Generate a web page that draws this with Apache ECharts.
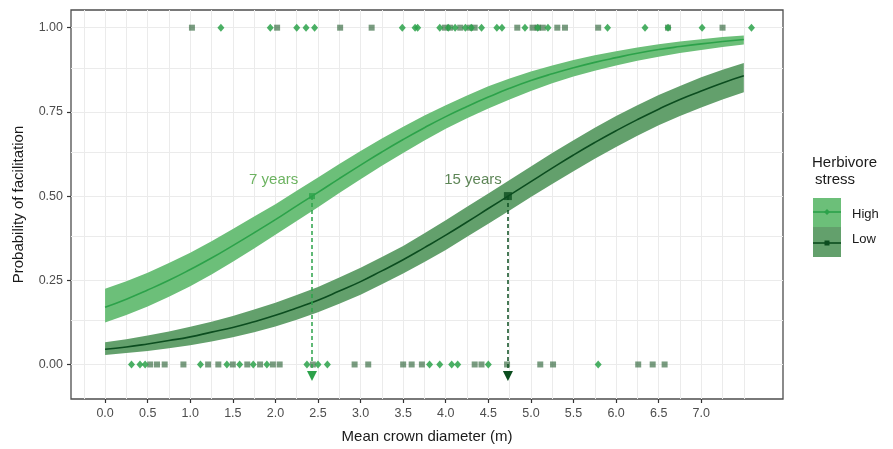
<!DOCTYPE html>
<html><head><meta charset="utf-8">
<script src="https://cdn.jsdelivr.net/npm/echarts@6/dist/echarts.min.js"></script>
<style>html,body{margin:0;padding:0;background:#fff}#c{width:893px;height:449px}</style>
</head><body><div id="c"></div>
<script>
// ---- data ----
const xTicks = [0, 0.5, 1, 1.5, 2, 2.5, 3, 3.5, 4, 4.5, 5, 5.5, 6, 6.5, 7];
const yTicks = [0, 0.25, 0.5, 0.75, 1];
const curveX = [0,0.25,0.5,0.75,1,1.25,1.5,1.75,2,2.25,2.5,2.75,3,3.25,3.5,3.75,4,4.25,4.5,4.75,5,5.25,5.5,5.75,6,6.25,6.5,6.75,7,7.25,7.5];
const highFit   = [0.170,0.194,0.221,0.250,0.282,0.316,0.353,0.391,0.430,0.471,0.511,0.552,0.592,0.631,0.668,0.703,0.736,0.766,0.794,0.820,0.843,0.863,0.881,0.897,0.911,0.924,0.935,0.944,0.952,0.959,0.965];
const highLower = [0.125,0.147,0.172,0.201,0.232,0.267,0.305,0.344,0.385,0.426,0.467,0.509,0.550,0.590,0.628,0.665,0.700,0.731,0.760,0.787,0.812,0.835,0.855,0.872,0.888,0.902,0.914,0.925,0.934,0.943,0.950];
const highUpper = [0.225,0.247,0.272,0.301,0.332,0.366,0.402,0.439,0.476,0.516,0.555,0.595,0.634,0.671,0.706,0.739,0.770,0.799,0.826,0.849,0.870,0.888,0.904,0.918,0.930,0.941,0.951,0.959,0.966,0.972,0.977];
const lowFit    = [0.045,0.052,0.061,0.071,0.082,0.096,0.110,0.127,0.146,0.168,0.191,0.218,0.246,0.278,0.311,0.347,0.384,0.423,0.463,0.503,0.543,0.583,0.622,0.659,0.694,0.727,0.758,0.787,0.812,0.836,0.857];
const lowLower  = [0.028,0.034,0.040,0.048,0.057,0.068,0.081,0.096,0.113,0.133,0.155,0.180,0.207,0.238,0.270,0.304,0.340,0.379,0.418,0.457,0.497,0.536,0.574,0.611,0.646,0.679,0.710,0.738,0.763,0.787,0.808];
const lowUpper  = [0.066,0.075,0.086,0.098,0.112,0.127,0.144,0.163,0.183,0.206,0.230,0.258,0.287,0.319,0.352,0.390,0.428,0.468,0.508,0.548,0.588,0.628,0.666,0.703,0.738,0.770,0.800,0.827,0.853,0.875,0.895];
// observed points (x positions); y = 1 (facilitation) or 0
const highTopX = [1.36,1.94,2.25,2.36,2.46,3.49,3.64,3.67,3.93,4.03,4.11,4.23,4.30,4.42,4.60,4.66,4.93,5.08,5.20,5.90,6.34,6.61,7.01,7.59];
const lowTopX  = [1.02,2.02,2.76,3.13,3.99,4.05,4.17,4.28,4.34,4.84,5.02,5.08,5.14,5.31,5.40,5.79,6.61,7.25];
const highBottomX = [0.31,0.41,0.47,1.12,1.43,1.58,1.74,1.90,2.37,2.50,2.61,3.81,3.93,4.07,4.14,4.50,5.79];
const lowBottomX  = [0.53,0.61,0.70,0.92,1.21,1.33,1.50,1.67,1.82,1.97,2.05,2.44,2.93,3.09,3.50,3.60,3.72,4.34,4.42,4.72,5.11,5.26,6.26,6.43,6.57];
const thresholdX = [2.43, 4.73];
const thresholdY = 0.5;
const annotationText = ['7 years', '15 years'];
const annotationX = [1.98, 4.32];
const annotationY = 0.547;
const arrowEndY = -0.034;

// ---- styles ----
const HIGH = '#2ca24a', LOW = '#0b4d1f';
const HIGH_BAND = '#6cbf79', LOW_BAND = '#63a06c';
const FONT = 'Liberation Sans, Arial, sans-serif';

const xGrid = [], yGrid = [];
xTicks.forEach(v => { xGrid.push(v); xGrid.push(v - 0.25); });
xGrid.push(7.25, 7.5);
yTicks.forEach(v => { yGrid.push(v); if (v < 1) yGrid.push(v + 0.125); });

const pts = (xs, y) => xs.map(x => [x, y]);
const pair = (ys) => curveX.map((x, i) => [x, ys[i]]);

function band(lower, upper, color) {
  return {
    type: 'custom', silent: true, z: 2, data: [[0, 0]],
    renderItem: (params, api) => {
      const p = [];
      for (let i = 0; i < curveX.length; i++) p.push(api.coord([curveX[i], upper[i]]));
      for (let i = curveX.length - 1; i >= 0; i--) p.push(api.coord([curveX[i], lower[i]]));
      return {type: 'polygon', shape: {points: p}, style: {fill: color}};
    }
  };
}

const chart = echarts.init(document.getElementById('c'), null, {renderer: 'canvas'});
chart.setOption({
  animation: false,
  backgroundColor: '#fff',
  textStyle: {fontFamily: FONT},
  grid: {left: 71, right: 110, top: 10, bottom: 50, show: true, borderColor: '#4d4d4d', borderWidth: 1.3, backgroundColor: 'transparent'},
  xAxis: {
    type: 'value', min: -0.4, max: 7.96,
    name: 'Mean crown diameter (m)', nameLocation: 'middle', nameGap: 30,
    nameTextStyle: {fontSize: 15, color: '#1a1a1a', fontFamily: FONT},
    axisLine: {show: false, onZero: false},
    axisTick: {show: true, customValues: xTicks, length: 4, lineStyle: {color: '#333', width: 1.2}},
    axisLabel: {customValues: xTicks, formatter: v => v.toFixed(1), color: '#4d4d4d', fontSize: 12.5, margin: 8, fontFamily: FONT},
    splitLine: {show: false}
  },
  yAxis: {
    type: 'value', min: -0.1025, max: 1.0525,
    name: 'Probability of facilitation', nameLocation: 'middle', nameGap: 45,
    nameTextStyle: {fontSize: 15, color: '#1a1a1a', fontFamily: FONT},
    axisLine: {show: false, onZero: false},
    axisTick: {show: true, customValues: yTicks, length: 4, lineStyle: {color: '#333', width: 1.2}},
    axisLabel: {customValues: yTicks, formatter: v => v.toFixed(2), color: '#4d4d4d', fontSize: 12.5, margin: 8, fontFamily: FONT},
    splitLine: {show: false}
  },
  series: [
    {type: 'line', data: [[0, 0]], symbol: 'none', lineStyle: {opacity: 0}, silent: true, z: 1,
     markLine: {silent: true, z: 1, symbol: 'none', label: {show: false},
       lineStyle: {color: '#ebebeb', width: 1, type: 'solid'},
       data: xGrid.map(v => ({xAxis: v})).concat(yGrid.map(v => ({yAxis: v})))}},
    band(highLower, highUpper, HIGH_BAND),
    band(lowLower, lowUpper, LOW_BAND),
    {name: 'High', type: 'line', data: pair(highFit), symbol: 'none', smooth: true, lineStyle: {color: HIGH, width: 1.6}, z: 3},
    {name: 'Low', type: 'line', data: pair(lowFit), symbol: 'none', smooth: true, lineStyle: {color: LOW, width: 1.6}, z: 3},
    {type: 'scatter', data: pts(lowTopX, 1).concat(pts(lowBottomX, 0)), symbol: 'rect', symbolSize: 6,
     itemStyle: {color: '#1f5a2c', opacity: 0.6}, z: 4},
    {type: 'scatter', data: pts(highTopX, 1).concat(pts(highBottomX, 0)), symbol: 'diamond', symbolSize: [7, 8],
     itemStyle: {color: HIGH, opacity: 0.85}, z: 4},
    // thresholds
    {type: 'scatter', data: [[thresholdX[0], thresholdY]], symbol: 'rect', symbolSize: 6, itemStyle: {color: HIGH}, z: 6,
     markLine: {silent: true, z: 5, symbol: ['none', 'triangle'], symbolSize: 10, label: {show: false},
       lineStyle: {color: HIGH, width: 1.5, type: [4, 3]},
       data: [[{coord: [thresholdX[0], thresholdY]}, {coord: [thresholdX[0], arrowEndY]}]]}},
    {type: 'scatter', data: [[thresholdX[1], thresholdY]], symbol: 'rect', symbolSize: 8, itemStyle: {color: LOW}, z: 6,
     markLine: {silent: true, z: 5, symbol: ['none', 'triangle'], symbolSize: 10, label: {show: false},
       lineStyle: {color: LOW, width: 1.5, type: [4, 3]},
       data: [[{coord: [thresholdX[1], thresholdY]}, {coord: [thresholdX[1], arrowEndY]}]]}},
    {type: 'scatter', data: [[annotationX[0], annotationY]], symbolSize: 1, itemStyle: {color: 'rgba(0,0,0,0)'}, z: 7,
     label: {show: true, position: 'inside', formatter: annotationText[0], fontSize: 15, color: '#49a03a', fontFamily: FONT}},
    {type: 'scatter', data: [[annotationX[1], annotationY]], symbolSize: 1, itemStyle: {color: 'rgba(0,0,0,0)'}, z: 7,
     label: {show: true, position: 'inside', formatter: annotationText[1], fontSize: 15, color: '#35662c', fontFamily: FONT}}
  ],
  graphic: [
    {type: 'text', left: 812, top: 155, style: {text: 'Herbivore', fontSize: 15, fill: '#1a1a1a', fontFamily: FONT}},
    {type: 'text', left: 815, top: 172, style: {text: 'stress', fontSize: 15, fill: '#1a1a1a', fontFamily: FONT}},
    {type: 'rect', shape: {x: 813, y: 198, width: 28, height: 29}, style: {fill: HIGH_BAND}},
    {type: 'rect', shape: {x: 813, y: 227, width: 28, height: 30}, style: {fill: LOW_BAND}},
    {type: 'line', shape: {x1: 813, y1: 212, x2: 841, y2: 212}, style: {stroke: HIGH, lineWidth: 1.6}},
    {type: 'line', shape: {x1: 813, y1: 243, x2: 841, y2: 243}, style: {stroke: LOW, lineWidth: 1.6}},
    {type: 'polygon', shape: {points: [[827, 209], [830, 212], [827, 215], [824, 212]]}, style: {fill: HIGH}},
    {type: 'rect', shape: {x: 824.5, y: 240.5, width: 5, height: 5}, style: {fill: LOW}},
    {type: 'text', left: 852, top: 208, style: {text: 'High', fontSize: 13, fill: '#1a1a1a', fontFamily: FONT}},
    {type: 'text', left: 852, top: 233, style: {text: 'Low', fontSize: 13, fill: '#1a1a1a', fontFamily: FONT}}
  ]
});
</script></body></html>
